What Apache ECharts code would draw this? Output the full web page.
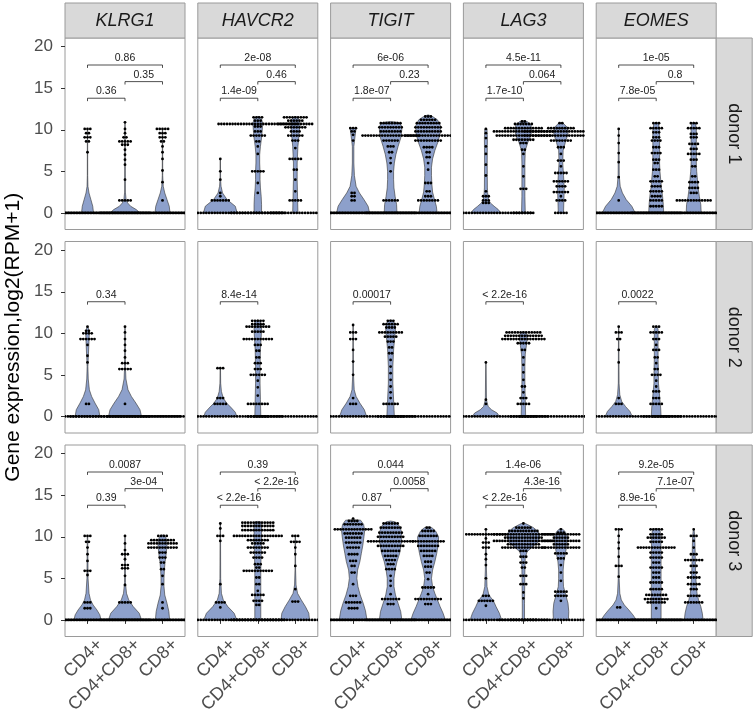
<!DOCTYPE html>
<html><head><meta charset="utf-8">
<script src="https://cdn.jsdelivr.net/npm/echarts@6/dist/echarts.min.js"></script>
<style>html,body{margin:0;padding:0;background:#fff}#c{width:756px;height:713px}</style>
</head><body><div id="c"></div>
<script>
// ---------- categories / labels ----------
const genes = ['KLRG1','HAVCR2','TIGIT','LAG3','EOMES'];
const donors = ['donor 1','donor 2','donor 3'];
const groups = ['CD4+','CD4+CD8+','CD8+'];
const yTicks = [0,5,10,15,20];
// p-values: [CD4+ vs CD4+CD8+, CD4+CD8+ vs CD8+, CD4+ vs CD8+]
const pvals_d1 = [['0.36','0.35','0.86'],['1.4e-09','0.46','2e-08'],['1.8e-07','0.23','6e-06'],['1.7e-10','0.064','4.5e-11'],['7.8e-05','0.8','1e-05']];
const pvals_d2 = ['0.34','8.4e-14','0.00017','< 2.2e-16','0.0022'];
const pvals_d3 = [['0.39','3e-04','0.0087'],['< 2.2e-16','< 2.2e-16','0.39'],['0.87','0.0058','0.044'],['< 2.2e-16','4.3e-16','1.4e-06'],['8.9e-16','7.1e-07','9.2e-05']];
const bracketY = [13.8, 15.8, 17.8];

// ---------- dot rows: per group [value, count] ----------
const dots_KLRG1_d1 = [
 [[10.1,3],[9.6,2],[9.1,3],[8.6,2],[7.3,1],[0,45]],
 [[10.9,1],[10.1,1],[9.6,1],[9.1,2],[8.6,5],[8.2,3],[7.6,1],[7.0,1],[6.4,1],[5.8,1],[4.0,1],[1.5,5],[0,45]],
 [[10.1,5],[9.6,3],[9.1,3],[8.6,2],[8.0,1],[7.3,1],[6.5,1],[5.1,1],[3.7,1],[1.5,1],[0,45]]];
const dots_HAVCR2_d1 = [
 [[6.5,1],[5.0,1],[4.0,1],[2.4,1],[2.0,1],[1.5,7],[0,45]],
 [[11.5,4],[11.1,3],[10.7,29],[10.4,3],[9.8,3],[9.3,6],[8.6,2],[8.0,1],[7.1,1],[5.0,5],[3.6,1],[2.4,1],[0,20]],
 [[11.5,9],[11.1,6],[10.7,13],[10.3,8],[9.8,4],[9.3,6],[8.7,3],[7.8,1],[6.5,5],[5.2,2],[4.0,1],[2.6,1],[1.5,5],[0,18]]];
const dots_TIGIT_d1 = [
 [[10.2,3],[9.8,2],[9.4,1],[8.7,1],[2.4,2],[2.0,2],[1.5,2],[0,45]],
 [[10.8,8],[10.3,9],[9.8,8],[9.3,21],[8.7,6],[8.0,3],[7.3,2],[6.6,1],[6.0,1],[5.0,1],[1.5,6],[0,45]],
 [[11.6,3],[11.2,6],[10.8,9],[10.3,10],[9.8,10],[9.3,17],[8.7,10],[7.9,4],[7.3,2],[6.7,2],[6.0,1],[5.2,1],[3.6,3],[2.6,2],[2.0,3],[1.5,8],[0,45]]];
const dots_LAG3_d1 = [
 [[10.1,1],[9.6,1],[9.0,1],[8.0,1],[7.1,1],[5.8,1],[4.5,1],[2.6,1],[2.0,3],[1.5,3],[1.2,3],[0,33]],
 [[11.0,2],[10.7,7],[10.2,14],[9.8,22],[9.3,20],[8.8,8],[8.4,3],[7.6,2],[7.1,1],[5.6,1],[4.4,1],[2.9,3],[0,8]],
 [[10.8,2],[10.2,10],[9.8,27],[9.3,27],[8.7,8],[7.9,3],[7.1,1],[6.3,3],[5.6,1],[4.8,5],[3.8,6],[3.2,4],[2.5,6],[2.0,1],[1.5,4],[0,5]]];
const dots_EOMES_d1 = [
 [[10.1,1],[9.3,1],[8.4,1],[7.2,1],[6.1,1],[4.3,1],[1.5,1],[0,45]],
 [[10.8,3],[10.2,5],[9.7,3],[9.1,3],[8.7,4],[7.9,3],[7.2,4],[6.4,3],[6.0,2],[5.2,3],[4.4,2],[3.8,5],[3.2,4],[2.6,5],[2.0,4],[1.5,5],[0.8,5],[0,45]],
 [[10.8,3],[10.2,5],[9.5,3],[9.1,3],[8.3,4],[7.7,3],[7.1,5],[6.4,3],[5.6,2],[4.4,2],[3.7,4],[3.0,4],[2.4,3],[1.5,13],[0,45]]];

const dots_KLRG1_d2 = [
 [[10.8,1],[10.3,2],[10.0,4],[9.3,6],[8.6,1],[7.3,1],[6.5,1],[1.5,2],[0,45]],
 [[10.8,1],[10.1,1],[9.3,1],[8.6,1],[7.9,1],[7.1,1],[6.4,3],[5.7,5],[1.5,1],[0,40]],
 [[0,40]]];
const dots_HAVCR2_d2 = [
 [[5.8,3],[2.2,3],[1.5,5],[0,45]],
 [[11.5,5],[11.1,5],[10.8,9],[10.2,5],[9.3,11],[8.6,3],[7.9,2],[7.1,2],[6.4,3],[5.7,3],[5.0,6],[4.3,1],[3.5,1],[2.5,1],[1.5,8],[0,8]],
 [[0,30]]];
const dots_TIGIT_d2 = [
 [[11.0,1],[10.1,3],[9.3,3],[8.0,1],[6.6,1],[5.0,1],[2.2,1],[1.5,3],[0,45]],
 [[11.5,3],[11.1,6],[10.7,4],[10.1,9],[9.6,5],[9.0,3],[8.3,2],[7.6,2],[6.8,1],[6.0,1],[5.2,1],[4.4,1],[3.6,1],[2.9,1],[2.2,1],[1.5,6],[0,10]],
 [[0,30]]];
const dots_LAG3_d2 = [
 [[6.5,1],[2.0,1],[1.5,1],[0,45]],
 [[10.1,13],[9.7,14],[9.3,16],[8.8,5],[8.0,2],[7.1,1],[6.2,1],[5.3,1],[4.4,1],[3.6,2],[2.9,1],[2.2,3],[1.5,5],[0,10]],
 [[0,30]]];
const dots_EOMES_d2 = [
 [[10.8,1],[10.1,3],[9.3,2],[8.0,1],[6.5,1],[2.2,1],[1.5,3],[0,45]],
 [[10.8,3],[10.1,5],[9.3,3],[8.6,1],[8.0,3],[7.1,2],[6.4,1],[5.7,2],[5.0,4],[4.3,1],[3.6,1],[3.0,3],[2.2,3],[1.5,5],[0,10]],
 [[0,30]]];

const dots_KLRG1_d3 = [
 [[10.1,3],[9.4,2],[8.7,1],[7.9,1],[7.1,1],[5.9,3],[5.4,1],[2.1,3],[1.4,3],[0,45]],
 [[10.1,1],[9.2,1],[8.4,1],[7.9,3],[7.3,1],[6.6,3],[6.2,3],[5.3,1],[4.2,1],[2.1,5],[0,45]],
 [[10.1,4],[9.6,9],[9.2,11],[8.7,11],[8.1,3],[7.5,3],[6.9,2],[6.1,2],[5.3,1],[4.3,1],[2.1,1],[1.4,1],[0,45]]];
const dots_HAVCR2_d3 = [
 [[11.6,1],[11.0,1],[10.1,3],[9.5,1],[4.3,1],[2.1,4],[1.5,1],[0,45]],
 [[11.7,12],[11.3,12],[10.8,12],[10.1,18],[9.6,8],[9.2,5],[8.7,8],[8.1,6],[7.5,4],[6.7,3],[6.3,2],[5.9,11],[5.1,2],[4.3,2],[3.5,1],[3.0,5],[2.3,4],[1.8,2],[0,20]],
 [[10.1,3],[9.4,4],[8.7,1],[7.9,1],[6.5,1],[3.7,1],[2.2,3],[0,45]]];
const dots_TIGIT_d3 = [
 [[12.2,1],[11.9,4],[11.5,7],[10.9,14],[10.4,7],[9.9,6],[9.3,6],[8.7,5],[7.9,4],[7.1,3],[6.5,2],[5.7,2],[4.3,1],[2.9,3],[2.1,6],[1.4,4],[0,45]],
 [[11.6,6],[11.1,8],[10.5,9],[10.0,10],[9.45,17],[8.9,10],[8.3,7],[7.7,5],[7.2,4],[6.7,3],[6.1,4],[5.3,1],[4.7,1],[4.1,1],[3.1,1],[2.5,7],[1.9,3],[0,45]],
 [[11.1,2],[10.7,5],[10.1,7],[9.45,12],[8.9,8],[8.3,6],[7.7,4],[7.0,3],[6.4,3],[5.7,2],[4.9,1],[3.9,5],[3.1,1],[2.5,10],[1.9,3],[0,45]]];
const dots_LAG3_d3 = [
 [[10.9,1],[10.3,15],[9.8,1],[9.3,3],[8.7,3],[7.9,1],[7.3,1],[6.6,1],[5.0,1],[2.9,3],[2.3,6],[1.7,1],[0,45]],
 [[11.6,1],[11.1,6],[10.7,11],[10.3,22],[9.9,14],[9.5,22],[9.1,12],[8.7,16],[8.3,3],[7.6,3],[6.9,3],[6.3,2],[5.3,3],[4.3,3],[3.3,1],[2.6,1],[0,10]],
 [[10.9,1],[10.5,3],[10.3,14],[9.9,6],[9.5,14],[9.1,6],[8.7,14],[8.0,5],[7.4,3],[6.6,1],[5.7,1],[4.7,1],[3.4,5],[2.9,5],[2.3,1],[0,45]]];
const dots_EOMES_d3 = [
 [[10.9,3],[10.1,1],[9.3,1],[8.6,1],[7.6,1],[6.5,3],[5.2,1],[1.5,2],[0,45]],
 [[10.9,5],[10.3,5],[9.9,7],[9.4,5],[8.7,14],[8.1,5],[7.5,5],[6.9,3],[6.3,5],[5.7,3],[5.1,3],[4.5,5],[3.7,5],[3.0,8],[2.5,9],[2.1,7],[1.4,1],[0,45]],
 [[10.9,1],[10.1,3],[9.5,1],[8.7,1],[7.9,3],[7.2,7],[6.5,3],[5.7,3],[5.1,5],[4.3,5],[3.7,3],[2.9,5],[2.1,7],[0,45]]];

// ---------- violin outlines: per group [value, half width in group units] ----------
const violin_KLRG1_d1 = [
 [[0,0.16],[0.8,0.14],[1.6,0.09],[2.4,0.04],[3.2,0.012],[4.5,0.005],[10.1,0.004]],
 [[0,0.4],[0.4,0.3],[0.8,0.15],[1.2,0.07],[1.6,0.03],[2.5,0.01],[10.9,0.004]],
 [[0,0.2],[0.8,0.18],[1.6,0.12],[2.4,0.06],[3.2,0.02],[4.5,0.006],[10.1,0.004]]];
const violin_HAVCR2_d1 = [
 [[0,0.45],[0.8,0.4],[1.6,0.18],[2.4,0.06],[3.2,0.02],[4,0.008],[6.5,0.004]],
 [[0,0.1],[1,0.1],[2,0.09],[3,0.07],[4,0.06],[5,0.06],[6,0.05],[7,0.05],[8,0.07],[9,0.1],[10,0.12],[10.8,0.13],[11.3,0.1],[11.6,0.02]],
 [[0,0.07],[2,0.06],[4,0.05],[6,0.05],[8,0.07],[9.5,0.1],[10.5,0.12],[11.2,0.11],[11.6,0.02]]];
const violin_TIGIT_d1 = [
 [[0,0.44],[0.8,0.4],[1.6,0.29],[2.4,0.17],[3.2,0.08],[4.5,0.035],[6,0.02],[8,0.02],[9.5,0.06],[10.2,0.08]],
 [[0,0.17],[1,0.16],[2,0.12],[3,0.09],[4,0.08],[5,0.08],[6,0.1],[7,0.14],[8,0.2],[9,0.27],[10,0.3],[10.6,0.28],[10.9,0.2],[11.0,0]],
 [[0,0.24],[0.8,0.22],[1.6,0.17],[2.5,0.12],[3.5,0.1],[4.5,0.09],[5.5,0.09],[6.5,0.12],[7.5,0.18],[8.5,0.26],[9.5,0.32],[10.5,0.33],[11.2,0.25],[11.6,0.12],[11.8,0]]];
const violin_LAG3_d1 = [
 [[0,0.4],[0.4,0.33],[0.8,0.22],[1.2,0.12],[1.6,0.07],[2.2,0.05],[3,0.04],[6,0.035],[9,0.04],[10.1,0.03]],
 [[0,0.05],[2,0.04],[4,0.04],[6,0.04],[7.5,0.05],[8.5,0.12],[9.3,0.2],[10,0.22],[10.6,0.2],[11,0.1],[11.1,0]],
 [[0,0.07],[1.5,0.08],[3,0.09],[4.5,0.07],[6,0.05],[7.5,0.06],[8.5,0.12],[9.5,0.19],[10.3,0.17],[10.8,0.06],[10.9,0]]];
const violin_EOMES_d1 = [
 [[0,0.44],[0.8,0.35],[1.6,0.2],[2.4,0.1],[3.2,0.04],[4.5,0.015],[10.1,0.006]],
 [[0,0.2],[1,0.19],[2,0.17],[3,0.14],[4,0.12],[5,0.1],[6,0.09],[7,0.09],[8,0.09],[9,0.09],[10,0.09],[10.8,0.06],[10.9,0]],
 [[0,0.2],[1,0.19],[2,0.15],[3,0.12],[4,0.1],[5,0.08],[6,0.07],[7,0.07],[8,0.07],[9,0.07],[10,0.07],[10.8,0.05],[10.9,0]]];

const violin_KLRG1_d2 = [
 [[0,0.33],[0.8,0.3],[1.6,0.2],[2.4,0.11],[3.2,0.05],[4.5,0.02],[6,0.01],[9,0.04],[10.2,0.05],[10.8,0.01]],
 [[0,0.44],[0.8,0.4],[1.6,0.29],[2.4,0.17],[3.2,0.08],[4.5,0.025],[6,0.01],[10.8,0.005]],
 []];
const violin_HAVCR2_d2 = [
 [[0,0.44],[0.5,0.4],[1,0.3],[1.6,0.17],[2.2,0.08],[3,0.03],[4,0.01],[5.8,0.005]],
 [[0,0.08],[2,0.07],[4,0.06],[6,0.06],[8,0.07],[9.5,0.09],[10.5,0.1],[11.3,0.08],[11.6,0.02]],
 []];
const violin_TIGIT_d2 = [
 [[0,0.36],[0.8,0.3],[1.6,0.18],[2.4,0.08],[3.2,0.03],[5,0.01],[11,0.005]],
 [[0,0.1],[2,0.08],[4,0.06],[6,0.06],[8,0.08],[9.5,0.11],[10.5,0.13],[11.2,0.11],[11.6,0.03]],
 []];
const violin_LAG3_d2 = [
 [[0,0.36],[0.4,0.3],[0.8,0.15],[1.2,0.06],[2,0.015],[6.5,0.005]],
 [[0,0.06],[2,0.05],[4,0.04],[6,0.04],[7.5,0.05],[8.5,0.08],[9.3,0.1],[9.9,0.09],[10.2,0.02]],
 []];
const violin_EOMES_d2 = [
 [[0,0.36],[0.6,0.3],[1.2,0.18],[1.8,0.08],[2.6,0.03],[4,0.01],[10.8,0.005]],
 [[0,0.13],[1,0.12],[2,0.1],[3,0.08],[4,0.06],[5,0.06],[7,0.05],[9,0.05],[10.5,0.05],[10.9,0.01]],
 []];

const violin_KLRG1_d3 = [
 [[0,0.36],[0.6,0.33],[1.2,0.25],[1.8,0.15],[2.4,0.08],[3.2,0.04],[5,0.015],[10.1,0.006]],
 [[0,0.44],[0.8,0.38],[1.6,0.22],[2.4,0.1],[3.2,0.04],[4.5,0.012],[10.1,0.005]],
 [[0,0.19],[1,0.17],[2,0.12],[3,0.06],[4,0.04],[5,0.04],[6,0.05],[7,0.07],[8,0.1],[9,0.12],[9.8,0.1],[10.2,0.04]]];
const violin_HAVCR2_d3 = [
 [[0,0.44],[0.8,0.37],[1.6,0.2],[2.4,0.08],[3.2,0.03],[5,0.01],[11.6,0.005]],
 [[0,0.08],[2,0.08],[4,0.08],[6,0.08],[8,0.09],[10,0.1],[11,0.1],[11.8,0.08],[11.85,0]],
 [[0,0.38],[0.8,0.36],[1.6,0.27],[2.4,0.16],[3.2,0.06],[4.2,0.02],[6,0.008],[10.1,0.006]]];
const violin_TIGIT_d3 = [
 [[0,0.37],[1.1,0.33],[2,0.27],[3,0.19],[4,0.13],[5,0.1],[6,0.12],[7,0.18],[8,0.22],[9,0.26],[10,0.29],[10.8,0.31],[11.5,0.28],[12.0,0.2],[12.05,0]],
 [[0,0.3],[1,0.27],[2,0.2],[3,0.13],[4,0.09],[5,0.09],[6,0.12],[7,0.17],[8,0.24],[9,0.28],[10,0.3],[10.8,0.28],[11.4,0.22],[11.8,0.12],[11.9,0]],
 [[0,0.46],[0.8,0.4],[1.6,0.32],[2.4,0.25],[3.2,0.18],[4,0.12],[5,0.09],[6,0.12],[7,0.18],[8,0.23],[9,0.27],[10,0.28],[10.7,0.2],[11.1,0.1],[11.2,0]]];
const violin_LAG3_d3 = [
 [[0,0.42],[0.8,0.36],[1.6,0.27],[2.3,0.2],[3,0.08],[4,0.03],[6,0.015],[10.9,0.006]],
 [[0,0.03],[2,0.03],[4,0.035],[6,0.04],[7.5,0.05],[8.2,0.1],[8.7,0.22],[9.3,0.38],[10,0.44],[10.6,0.4],[11.1,0.27],[11.5,0.1],[11.7,0]],
 [[0,0.2],[1,0.21],[2,0.19],[3,0.13],[4,0.07],[5,0.06],[6,0.06],[7,0.08],[8,0.12],[9,0.16],[10,0.17],[10.6,0.12],[10.9,0.05],[11,0]]];
const violin_EOMES_d3 = [
 [[0,0.47],[0.6,0.38],[1.2,0.27],[1.8,0.15],[2.4,0.07],[3.2,0.03],[5,0.012],[10.9,0.006]],
 [[0,0.13],[2,0.13],[4,0.13],[6,0.13],[8,0.13],[10,0.12],[10.9,0.1],[11,0]],
 [[0,0.25],[0.8,0.23],[1.6,0.19],[2.4,0.13],[3.2,0.09],[4,0.07],[6,0.05],[8,0.04],[10,0.03],[10.9,0.01]]];

// ---------- assemble ----------
const DOTS = [
 [dots_KLRG1_d1, dots_HAVCR2_d1, dots_TIGIT_d1, dots_LAG3_d1, dots_EOMES_d1],
 [dots_KLRG1_d2, dots_HAVCR2_d2, dots_TIGIT_d2, dots_LAG3_d2, dots_EOMES_d2],
 [dots_KLRG1_d3, dots_HAVCR2_d3, dots_TIGIT_d3, dots_LAG3_d3, dots_EOMES_d3]];
const VIOLINS = [
 [violin_KLRG1_d1, violin_HAVCR2_d1, violin_TIGIT_d1, violin_LAG3_d1, violin_EOMES_d1],
 [violin_KLRG1_d2, violin_HAVCR2_d2, violin_TIGIT_d2, violin_LAG3_d2, violin_EOMES_d2],
 [violin_KLRG1_d3, violin_HAVCR2_d3, violin_TIGIT_d3, violin_LAG3_d3, violin_EOMES_d3]];

const FONT = "'Liberation Sans', Arial, Helvetica, sans-serif";
const L0 = 65, STEPX = 132.8, PW = 120;
const TOPS = [38, 241.5, 445], PH = 191.5;
const STRIP_H = 35, STRIP_W = 36;
const D = 2.8, R = 1.4;
const FILL = '#8DA0CB';
const Y_MIN = -2.0, Y_MAX = 21.05;

const grids = [], xAxes = [], yAxes = [], series = [], graphics = [];
for (let r = 0; r < 3; r++) {
  for (let c = 0; c < 5; c++) {
    const gi = grids.length;
    grids.push({left: L0 + c*STEPX, top: TOPS[r], width: PW, height: PH, show: true,
      borderColor: '#9a9a9a', borderWidth: 1, backgroundColor: '#fff', containLabel: false});
    xAxes.push({gridIndex: gi, type: 'value', min: 0.4, max: 3.6,
      axisLine: {show: false}, splitLine: {show: false},
      axisTick: {show: r === 2, customValues: [1,2,3], length: 4, lineStyle: {color: '#333', width: 1}},
      axisLabel: {show: false}});
    yAxes.push({gridIndex: gi, type: 'value', min: Y_MIN, max: Y_MAX,
      axisLine: {show: false}, splitLine: {show: false},
      axisTick: {show: c === 0, customValues: yTicks, length: 4, lineStyle: {color: '#333', width: 1}},
      axisLabel: {show: c === 0, customValues: yTicks, margin: 12, fontSize: 17, color: '#4d4d4d', fontFamily: FONT}});

    const vio = VIOLINS[r][c], dts = DOTS[r][c];
    // violins
    const vData = [];
    vio.forEach((p, i) => { if (p.length) vData.push([i+1, 0]); });
    series.push({type: 'custom', xAxisIndex: gi, yAxisIndex: gi, clip: true, silent: true, data: vData,
      renderItem: (params, api) => {
        const g = api.value(0); const prof = vio[g-1];
        const right = prof.map(p => api.coord([g + p[1], p[0]]));
        const left = prof.slice().reverse().map(p => api.coord([g - p[1], p[0]]));
        return {type: 'polygon', shape: {points: right.concat(left)},
          style: {fill: FILL, stroke: '#333', lineWidth: 0.6}};
      }});
    // dots
    const dData = [];
    dts.forEach((rows, i) => rows.forEach(([v, n]) => dData.push([i+1, v, n])));
    series.push({type: 'custom', xAxisIndex: gi, yAxisIndex: gi, clip: true, silent: true, data: dData,
      renderItem: (params, api) => {
        const p = api.coord([api.value(0), api.value(1)]);
        const n = api.value(2); const cs = params.coordSys;
        const ch = [];
        for (let k = 0; k < n; k++) {
          const cx = p[0] + (k - (n-1)/2) * D;
          if (cx < cs.x - R || cx > cs.x + cs.width + R) continue;
          ch.push({type: 'circle', shape: {cx: cx, cy: p[1], r: R}, style: {fill: '#000'}});
        }
        return {type: 'group', children: ch};
      }});
    // brackets
    const bData = r === 1 ? [[1,2,0]] : [[1,2,0],[2,3,1],[1,3,2]];
    series.push({type: 'custom', xAxisIndex: gi, yAxisIndex: gi, clip: false, silent: true, data: bData,
      renderItem: (params, api) => {
        const x1 = api.value(0), x2 = api.value(1), lev = api.value(2);
        const y = bracketY[lev];
        const p1 = api.coord([x1, y]), p2 = api.coord([x2, y]);
        const tip = api.coord([x1, y - 0.35])[1] - p1[1];
        const lab = r === 0 ? pvals_d1[c][lev] : (r === 1 ? pvals_d2[c] : pvals_d3[c][lev]);
        return {type: 'group', children: [
          {type: 'polyline', shape: {points: [[p1[0], p1[1]+tip],[p1[0], p1[1]],[p2[0], p2[1]],[p2[0], p2[1]+tip]]},
            style: {stroke: '#222', lineWidth: 0.8, fill: null}},
          {type: 'text', x: (p1[0]+p2[0])/2, y: p1[1] - 1.5,
            style: {text: lab, fontSize: 10.5, fontFamily: FONT, fill: '#222', align: 'center', verticalAlign: 'bottom'}}
        ]};
      }});
    // x tick labels (bottom row only), rotated 45 deg, anchored top-right near the tick
    if (r === 2) {
      series.push({type: 'custom', xAxisIndex: gi, yAxisIndex: gi, clip: false, silent: true,
        data: groups.map((g, i) => [i+1, Y_MIN]),
        renderItem: (params, api) => {
          const g = api.value(0);
          const p = api.coord([g, api.value(1)]);
          return {type: 'text', x: p[0] + 6, y: p[1] - 1, rotation: Math.PI/4,
            style: {text: groups[g-1], fontSize: 18, fontFamily: FONT, fill: '#4d4d4d', align: 'right', verticalAlign: 'top'}};
        }});
    }
  }
}
// strips (top)
for (let c = 0; c < 5; c++) {
  const x = L0 + c*STEPX;
  graphics.push({type: 'rect', shape: {x: x, y: TOPS[0]-STRIP_H, width: PW, height: STRIP_H},
    style: {fill: '#d9d9d9', stroke: '#9a9a9a', lineWidth: 1}});
  graphics.push({type: 'text', x: x + PW/2, y: TOPS[0]-STRIP_H/2,
    style: {text: genes[c], fontSize: 18, fontStyle: 'italic', fontFamily: FONT, fill: '#1a1a1a', align: 'center', verticalAlign: 'middle'}});
}
// strips (right)
const xr = L0 + 4*STEPX + PW;
for (let r = 0; r < 3; r++) {
  graphics.push({type: 'rect', shape: {x: xr, y: TOPS[r], width: STRIP_W, height: PH},
    style: {fill: '#d9d9d9', stroke: '#9a9a9a', lineWidth: 1}});
  graphics.push({type: 'text', x: xr + STRIP_W/2, y: TOPS[r] + PH/2, rotation: -Math.PI/2,
    style: {text: donors[r], fontSize: 18, fontFamily: FONT, fill: '#1a1a1a', align: 'center', verticalAlign: 'middle'}});
}
// y axis title
graphics.push({type: 'text', x: 13, y: (TOPS[0] + TOPS[2] + PH)/2, rotation: Math.PI/2,
  style: {text: 'Gene expression,log2(RPM+1)', fontSize: 21, fontFamily: FONT, fill: '#000', align: 'center', verticalAlign: 'middle'}});

const chart = echarts.init(document.getElementById('c'), null, {renderer: 'canvas'});
chart.setOption({animation: false, backgroundColor: '#fff', grid: grids, xAxis: xAxes, yAxis: yAxes, series: series, graphic: {elements: graphics}});
</script></body></html>
